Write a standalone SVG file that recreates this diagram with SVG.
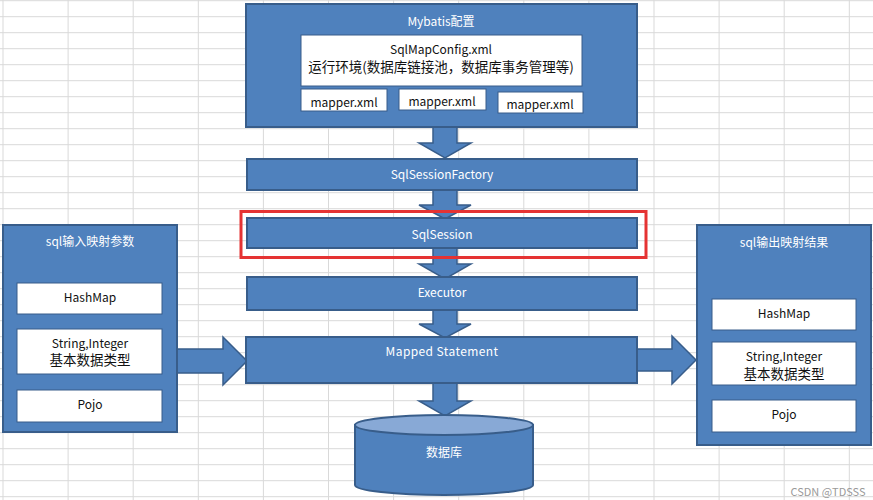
<svg xmlns="http://www.w3.org/2000/svg" width="873" height="500" viewBox="0 0 873 500">
<defs>
<style>
.grid line{stroke:#d9d9d9;stroke-width:1}
.blue{fill:#4f81bd;stroke:#385d8a;stroke-width:2}
.white{fill:#ffffff;stroke:#385d8a;stroke-width:1}
.arr{fill:#4f81bd;stroke:#385d8a;stroke-width:1.5;stroke-linejoin:miter}
text{font-family:"Noto Sans CJK SC","Noto Sans",sans-serif;text-anchor:middle;dominant-baseline:central}
.wt{fill:#ffffff;font-size:12px}
.bt{fill:#111111;font-size:12px}
.bt13{fill:#111111;font-size:13.5px}
</style>
</defs>
<rect x="0" y="0" width="873" height="500" fill="#ffffff"/>
<g class="grid">
<line x1="0" y1="0.7" x2="873" y2="0.7"/><line x1="0" y1="16.7" x2="873" y2="16.7"/><line x1="0" y1="32.7" x2="873" y2="32.7"/><line x1="0" y1="48.7" x2="873" y2="48.7"/><line x1="0" y1="64.7" x2="873" y2="64.7"/><line x1="0" y1="80.7" x2="873" y2="80.7"/><line x1="0" y1="96.7" x2="873" y2="96.7"/><line x1="0" y1="112.7" x2="873" y2="112.7"/><line x1="0" y1="128.7" x2="873" y2="128.7"/><line x1="0" y1="144.7" x2="873" y2="144.7"/><line x1="0" y1="160.7" x2="873" y2="160.7"/><line x1="0" y1="176.7" x2="873" y2="176.7"/><line x1="0" y1="192.7" x2="873" y2="192.7"/><line x1="0" y1="208.7" x2="873" y2="208.7"/><line x1="0" y1="224.7" x2="873" y2="224.7"/><line x1="0" y1="240.7" x2="873" y2="240.7"/><line x1="0" y1="256.7" x2="873" y2="256.7"/><line x1="0" y1="272.7" x2="873" y2="272.7"/><line x1="0" y1="288.7" x2="873" y2="288.7"/><line x1="0" y1="304.7" x2="873" y2="304.7"/><line x1="0" y1="320.7" x2="873" y2="320.7"/><line x1="0" y1="336.7" x2="873" y2="336.7"/><line x1="0" y1="352.7" x2="873" y2="352.7"/><line x1="0" y1="368.7" x2="873" y2="368.7"/><line x1="0" y1="384.7" x2="873" y2="384.7"/><line x1="0" y1="400.7" x2="873" y2="400.7"/><line x1="0" y1="416.7" x2="873" y2="416.7"/><line x1="0" y1="432.7" x2="873" y2="432.7"/><line x1="0" y1="448.7" x2="873" y2="448.7"/><line x1="0" y1="464.7" x2="873" y2="464.7"/><line x1="0" y1="480.7" x2="873" y2="480.7"/><line x1="0" y1="496.7" x2="873" y2="496.7"/>
<line x1="3" y1="0" x2="3" y2="500"/><line x1="68.1" y1="0" x2="68.1" y2="500"/><line x1="133.2" y1="0" x2="133.2" y2="500"/><line x1="198.3" y1="0" x2="198.3" y2="500"/><line x1="263.4" y1="0" x2="263.4" y2="500"/><line x1="328.5" y1="0" x2="328.5" y2="500"/><line x1="393.6" y1="0" x2="393.6" y2="500"/><line x1="458.7" y1="0" x2="458.7" y2="500"/><line x1="523.8" y1="0" x2="523.8" y2="500"/><line x1="588.9" y1="0" x2="588.9" y2="500"/><line x1="654" y1="0" x2="654" y2="500"/><line x1="719.1" y1="0" x2="719.1" y2="500"/><line x1="784.2" y1="0" x2="784.2" y2="500"/><line x1="849.3" y1="0" x2="849.3" y2="500"/>
</g>
<g id="connectors">
<polygon class="arr" points="433,127 457,127 457,143 471,143 445,158 419,143 433,143"/>
<polygon class="arr" points="433,190 457,190 457,205 471,205 445,219 419,205 433,205"/>
<polygon class="arr" points="433,248 457,248 457,264 471,264 445,279 419,264 433,264"/>
<polygon class="arr" points="433,310 457,310 457,324 471,324 445,338 419,324 433,324"/>
<polygon class="arr" points="433,383 457,383 457,401 471,401 445,416 419,401 433,401"/>
<polygon class="arr" points="177,349 223,349 223,337 247,361 223,385 223,373 177,373"/>
<polygon class="arr" points="637,349 672,349 672,336 696,360 672,384 672,371 637,371"/>
</g>
<g id="mybatis-config">
<rect class="blue" x="246" y="4" width="391" height="123"/>
<text class="wt" x="441" y="20" font-size="13">Mybatis配置</text>
<rect class="white" x="301" y="35" width="281" height="51"/>
<text class="bt" x="441" y="48" font-size="12.5">SqlMapConfig.xml</text>
<text class="bt13" x="441" y="66">运行环境(数据库链接池，数据库事务管理等)</text>
</g>
<g id="mapper1"><rect class="white" x="301" y="89" width="86" height="22"/><text class="bt" x="344" y="101">mapper.xml</text></g>
<g id="mapper2"><rect class="white" x="399" y="89" width="87" height="21"/><text class="bt" x="442" y="100">mapper.xml</text></g>
<g id="mapper3"><rect class="white" x="498" y="92" width="85" height="21"/><text class="bt" x="540" y="103">mapper.xml</text></g>
<g id="sqlsessionfactory"><rect class="blue" x="247" y="159" width="390" height="31"/><text class="wt" x="442" y="173">SqlSessionFactory</text></g>
<g id="sqlsession"><rect class="blue" x="247" y="218" width="390" height="30"/><text class="wt" x="442" y="233">SqlSession</text>
<rect x="241" y="211.5" width="405" height="46" fill="none" stroke="#e53333" stroke-width="3"/></g>
<g id="executor"><rect class="blue" x="247" y="277" width="390" height="33"/><text class="wt" x="442" y="291">Executor</text></g>
<g id="mapped-statement"><rect class="blue" x="246" y="337" width="391" height="46"/><text class="wt" x="442" y="350" letter-spacing="0.4">Mapped Statement</text></g>
<g id="database">
<path class="blue" d="M355,425 L355,485 A89,10 0 0 0 533,485 L533,425 Z"/>
<ellipse cx="444" cy="425" rx="89" ry="10" fill="#88a9d6" stroke="#385d8a" stroke-width="2"/>
<text class="wt" x="444" y="451" font-size="13">数据库</text>
</g>
<g id="input-params">
<rect class="blue" x="3" y="225" width="174" height="207"/>
<text class="wt" x="90" y="240">sql输入映射参数</text>
<rect class="white" x="17" y="283" width="145" height="31"/><text class="bt" x="90" y="296">HashMap</text>
<rect class="white" x="17" y="329" width="145" height="45"/><text class="bt" x="90" y="342">String,Integer</text><text class="bt13" x="90" y="359">基本数据类型</text>
<rect class="white" x="17" y="390" width="145" height="32"/><text class="bt" x="90" y="403">Pojo</text>
</g>
<g id="output-results">
<rect class="blue" x="697" y="225" width="174" height="220"/>
<text class="wt" x="784" y="241">sql输出映射结果</text>
<rect class="white" x="712" y="299" width="144" height="31"/><text class="bt" x="784" y="312">HashMap</text>
<rect class="white" x="712" y="342" width="144" height="43"/><text class="bt" x="784" y="355">String,Integer</text><text class="bt13" x="784" y="373">基本数据类型</text>
<rect class="white" x="712" y="400" width="144" height="32"/><text class="bt" x="784" y="413">Pojo</text>
</g>
<text x="828" y="491" font-size="11" fill="#9a9a9a">CSDN @TDSSS</text>
</svg>
